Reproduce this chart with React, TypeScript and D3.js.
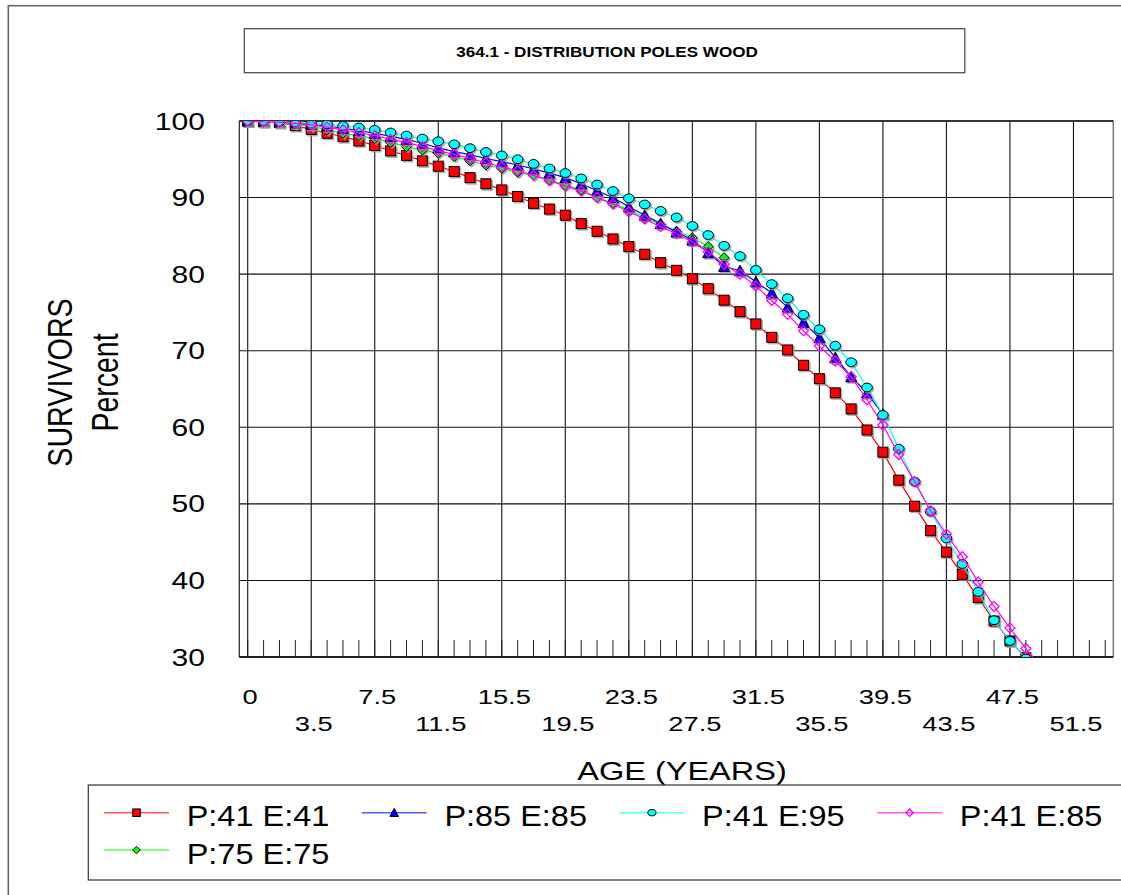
import React, { useEffect } from "react";
import * as d3 from "d3";

// ---------- DATA ----------
const AGES = [
  "0", "0.5", "1.5", "2.5", "3.5", "4.5", "5.5", "6.5", "7.5", "8.5", "9.5",
  "10.5", "11.5", "12.5", "13.5", "14.5", "15.5", "16.5", "17.5", "18.5", "19.5",
  "20.5", "21.5", "22.5", "23.5", "24.5", "25.5", "26.5", "27.5", "28.5", "29.5",
  "30.5", "31.5", "32.5", "33.5", "34.5", "35.5", "36.5", "37.5", "38.5", "39.5",
  "40.5", "41.5", "42.5", "43.5", "44.5", "45.5", "46.5", "47.5", "48.5", "49.5",
  "50.5", "51.5", "52.5", "53.5",
];
const TICK_LABELS = ["0", "3.5", "7.5", "11.5", "15.5", "19.5", "23.5", "27.5", "31.5", "35.5", "39.5", "43.5", "47.5", "51.5"];
const Y_TICKS = [30, 40, 50, 60, 70, 80, 90, 100];

const P41_E41 = [
  100, 99.9, 99.8, 99.4, 98.9, 98.4, 97.95, 97.4, 96.8, 96.1, 95.5,
  94.8, 94.1, 93.4, 92.6, 91.8, 91.0, 90.15, 89.25, 88.5, 87.7,
  86.6, 85.6, 84.6, 83.6, 82.6, 81.5, 80.5, 79.4, 78.1, 76.6,
  75.1, 73.5, 71.75, 70.1, 68.1, 66.35, 64.5, 62.4, 59.65, 56.75,
  53.1, 49.7, 46.5, 43.7, 40.8, 37.75, 34.7, 32.1, 29.9,
];
const P85_E85 = [
  100, 100, 99.9, 99.75, 99.55, 99.35, 99.05, 98.75, 98.4, 98.0, 97.6,
  97.1, 96.5, 96.0, 95.6, 95.1, 94.7, 94.25, 93.75, 93.2, 92.6,
  91.8, 90.9, 90.0, 88.8, 87.7, 86.6, 85.5, 84.45, 82.8, 81.0,
  80.45, 79.0, 77.55, 75.7, 73.7, 71.7, 69.1, 66.6, 64.5, 61.7,
];
const P41_E95 = [
  100, 100, 99.9, 99.83, 99.65, 99.55, 99.35, 99.15, 98.85, 98.5, 98.1,
  97.7, 97.35, 96.95, 96.45, 95.95, 95.5, 95.0, 94.4, 93.8, 93.2,
  92.5, 91.7, 90.85, 89.9, 89.1, 88.25, 87.4, 86.3, 85.1, 83.7,
  82.35, 80.55, 78.7, 76.85, 74.7, 72.8, 70.65, 68.5, 65.2, 61.6,
  57.2, 52.9, 49.0, 45.5, 42.15, 38.5, 34.8, 32.1, 29.8,
];
const P41_E85 = [
  100, 99.9, 99.85, 99.7, 99.5, 99.2, 98.85, 98.5, 98.1, 97.6, 97.2,
  96.65, 96.1, 95.65, 95.1, 94.55, 94.0, 93.5, 92.9, 92.2, 91.5,
  90.85, 90.0, 89.15, 88.15, 87.2, 86.2, 85.3, 84.2, 82.9, 81.3,
  80.0, 78.45, 76.55, 74.75, 72.6, 70.6, 68.65, 66.6, 63.6, 60.3,
  56.45, 52.9, 49.1, 46.05, 43.1, 39.8, 36.6, 33.8, 31.1, 28.4,
];
const P75_E75 = [
  100, 99.9, 99.8, 99.6, 99.3, 98.85, 98.4, 98.1, 97.7, 97.2, 96.65,
  96.2, 95.8, 95.35, 94.8, 94.25, 93.8, 93.3, 92.9, 92.3, 91.6,
  91.0, 90.0, 89.25, 88.4, 87.4, 86.5, 85.6, 84.75, 83.6, 82.15,
];

const SERIES_NAMES = ["P:41 E:41", "P:85 E:85", "P:41 E:95", "P:41 E:85", "P:75 E:75"];

// ---------- LAYOUT / STYLE ----------
const W = 1121;
const H = 895;
const PLOT = { left: 239.3, right: 1113.3, top: 121, bottom: 657 };
const FONT = "'Liberation Sans', Arial, Helvetica, sans-serif";

type MType = "square" | "triangle" | "circle" | "diamond" | "hdiamond";
const STYLES: { color: string; marker: MType; values: number[] }[] = [
  { color: "#ff0000", marker: "square", values: P41_E41 },
  { color: "#0000ff", marker: "triangle", values: P85_E85 },
  { color: "#00ffff", marker: "circle", values: P41_E95 },
  { color: "#ff00ff", marker: "hdiamond", values: P41_E85 },
  { color: "#00ff00", marker: "diamond", values: P75_E75 },
];
const DRAW_ORDER = [0, 4, 1, 2, 3];

const x = d3.scalePoint<string>().domain(AGES).range([247.7, 247.7 + 54 * 15.88]);
const y = d3.scaleLinear().domain([30, 100]).range([PLOT.bottom, PLOT.top]);

function T(props: {
  x: number; y: number; size: number; sx?: number; anchor?: string; weight?: string; rotate?: number; children: any;
}) {
  const { x: tx, y: ty, size, sx = 1, anchor = "middle", weight = "normal", rotate = 0, children } = props;
  return (
    <text
      transform={`translate(${tx},${ty})${rotate ? ` rotate(${rotate})` : ""} scale(${sx},1)`}
      fontSize={size}
      fontFamily={FONT}
      fontWeight={weight}
      textAnchor={anchor as any}
      fill="#000"
    >
      {children}
    </text>
  );
}

function Marker({ type, cx, cy, s, color, shadow }: { type: MType; cx: number; cy: number; s: number; color: string; shadow?: boolean }) {
  const fill = shadow ? "#9a9a9a" : type === "hdiamond" ? "none" : color;
  const stroke = shadow ? "#9a9a9a" : type === "hdiamond" ? color : "#000";
  const sw = type === "hdiamond" ? 1.3 : 1;
  const op = shadow ? 0.8 : 1;
  const h = s / 2;
  if (shadow && type === "hdiamond") return null;
  switch (type) {
    case "square":
      return <rect x={cx - h} y={cy - h} width={s} height={s} fill={fill} stroke={stroke} strokeWidth={sw} opacity={op} />;
    case "triangle":
      return (
        <path d={`M${cx},${cy - h - 0.5}L${cx + h + 0.5},${cy + h}L${cx - h - 0.5},${cy + h}Z`} fill={fill} stroke={stroke} strokeWidth={sw} opacity={op} />
      );
    case "circle":
      return <ellipse cx={cx} cy={cy} rx={h + 0.3} ry={h - 0.6} fill={fill} stroke={stroke} strokeWidth={sw} opacity={op} />;
    default:
      return (
        <path d={`M${cx},${cy - h}L${cx + h},${cy}L${cx},${cy + h}L${cx - h},${cy}Z`} fill={fill} stroke={stroke} strokeWidth={sw} opacity={op} />
      );
  }
}

export default function App() {
  useEffect(() => {
    document.body.style.margin = "0";
    document.documentElement.style.overflow = "hidden";
  }, []);

  const line = d3
    .line<number>()
    .x((_, i) => x(AGES[i])!)
    .y((d) => y(d));

  const majorCats = TICK_LABELS;

  const legendCols = [104, 361.7, 619.4, 877.1];
  const legendRows = [812.7, 850];
  const legendPos = [
    { col: 0, row: 0 },
    { col: 1, row: 0 },
    { col: 2, row: 0 },
    { col: 3, row: 0 },
    { col: 0, row: 1 },
  ];

  return (
    <svg width={W} height={H} style={{ position: "absolute", left: 0, top: 0, background: "#fff" }}>
      <defs>
        <clipPath id="plotclip">
          <rect x={PLOT.left} y={PLOT.top} width={PLOT.right - PLOT.left} height={PLOT.bottom - PLOT.top} />
        </clipPath>
      </defs>
      <rect x={0} y={0} width={W} height={H} fill="#fff" />
      {/* outer frame */}
      <rect x={8.3} y={5.7} width={W + 20} height={H + 20} fill="none" stroke="#606060" strokeWidth={1.5} />

      {/* title box */}
      <rect x={244.3} y={28.7} width={720.5} height={44} fill="#fff" stroke="#505050" strokeWidth={1.3} />
      <T x={607} y={57} size={14} sx={1.22} weight="bold">364.1 - DISTRIBUTION POLES WOOD</T>

      {/* horizontal gridlines */}
      {Y_TICKS.map((t) => (
        <line key={"h" + t} x1={PLOT.left} x2={PLOT.right} y1={y(t)} y2={y(t)} stroke="#111" strokeWidth={1.1} />
      ))}
      {/* vertical gridlines */}
      {majorCats.map((c) => (
        <line key={"v" + c} x1={x(c)!} x2={x(c)!} y1={PLOT.top} y2={PLOT.bottom} stroke="#111" strokeWidth={1.1} />
      ))}
      {/* minor ticks */}
      {AGES.map((c) => (
        <line key={"m" + c} x1={x(c)!} x2={x(c)!} y1={PLOT.bottom - 17} y2={PLOT.bottom} stroke="#222" strokeWidth={1} />
      ))}
      {/* plot frame */}
      <line x1={PLOT.left} x2={PLOT.left} y1={PLOT.top} y2={PLOT.bottom} stroke="#222" strokeWidth={1.2} />
      <line x1={PLOT.right} x2={PLOT.right} y1={PLOT.top} y2={PLOT.bottom} stroke="#777" strokeWidth={1.5} />
      <line x1={PLOT.left} x2={PLOT.right} y1={PLOT.top} y2={PLOT.top} stroke="#333" strokeWidth={2} />
      <line x1={PLOT.left} x2={PLOT.right} y1={PLOT.bottom} y2={PLOT.bottom} stroke="#222" strokeWidth={2} />

      {/* series */}
      <g clipPath="url(#plotclip)">
        {DRAW_ORDER.map((si) => {
          const s = STYLES[si];
          return (
            <g key={"s" + si}>
              <path d={line(s.values) || ""} fill="none" stroke={s.color} strokeWidth={1.2} />
              {s.values.map((v, i) => (
                <Marker key={"sh" + i} type={s.marker} cx={x(AGES[i])! + 1.5} cy={y(v) + 1.5} s={10} color={s.color} shadow />
              ))}
              {s.values.map((v, i) => (
                <Marker key={"mk" + i} type={s.marker} cx={x(AGES[i])!} cy={y(v)} s={10} color={s.color} />
              ))}
            </g>
          );
        })}
      </g>

      {/* y tick labels */}
      {Y_TICKS.map((t) => (
        <T key={"yl" + t} x={205} y={y(t) + 8.5} size={23.5} sx={1.28} anchor="end">
          {String(t)}
        </T>
      ))}
      {/* x tick labels */}
      {TICK_LABELS.map((c, i) => (
        <T key={"xl" + c} x={x(c)! + 2.5} y={i % 2 === 0 ? 704 : 731} size={21} sx={1.3}>
          {c}
        </T>
      ))}

      {/* axis titles */}
      <T x={682} y={780} size={25} sx={1.3}>AGE (YEARS)</T>
      <T x={72.3} y={382.5} size={35} sx={0.82} rotate={-90}>SURVIVORS</T>
      <T x={117.7} y={382.5} size={37} sx={0.77} rotate={-90}>Percent</T>

      {/* legend */}
      <rect x={88.3} y={785} width={W + 20} height={95} fill="#fff" stroke="#404040" strokeWidth={1.3} />
      {legendPos.map((p, si) => {
        const s = STYLES[si];
        const lx = legendCols[p.col];
        const ly = legendRows[p.row];
        return (
          <g key={"lg" + si}>
            <line x1={lx} x2={lx + 65} y1={ly} y2={ly} stroke={s.color} strokeWidth={1.5} opacity={0.65} />
            <Marker type={s.marker} cx={lx + 32.5} cy={ly} s={7.5} color={s.color} />
            <T x={lx + 82.7} y={ly + 13.5} size={29} sx={1.12} anchor="start">
              {SERIES_NAMES[si]}
            </T>
          </g>
        );
      })}
    </svg>
  );
}
